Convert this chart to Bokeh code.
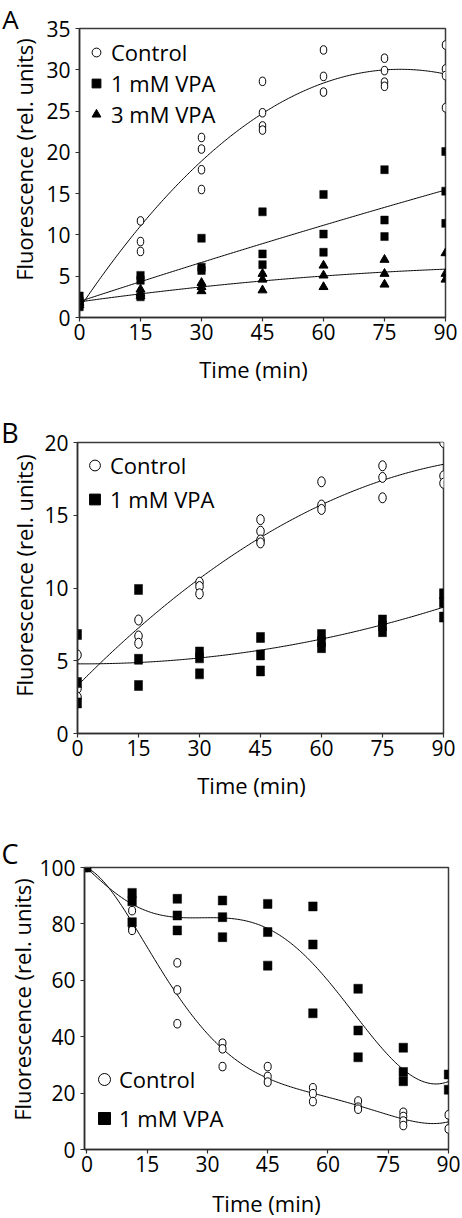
import numpy as np
from bokeh.plotting import figure
from bokeh.models import Legend, LegendItem, Label, FixedTicker, Range1d
from bokeh.layouts import column, row
from bokeh.embed import file_html
from bokeh.resources import INLINE

FONT = "Open Sans"

# ---------------- Panel A data ----------------
a_ctrl_t = [0, 0, 0, 15, 15, 15, 30, 30, 30, 30, 45, 45, 45, 45, 60, 60, 60, 75, 75, 75, 75, 90, 90, 90, 90]
a_ctrl_y = [2.0, 1.7, 2.3, 11.7, 9.2, 8.0, 21.8, 20.4, 17.9, 15.5, 28.6, 24.8, 23.2, 22.7,
            32.4, 29.2, 27.3, 31.4, 29.9, 28.5, 28.0, 33.0, 30.1, 29.3, 25.4]
a_vpa1_t = [0, 0, 0, 15, 15, 15, 30, 30, 30, 45, 45, 45, 60, 60, 60, 75, 75, 75, 90, 90, 90]
a_vpa1_y = [2.6, 2.0, 1.3, 5.1, 4.5, 2.5, 9.6, 6.1, 5.7, 12.8, 7.7, 6.4, 14.9, 10.1, 7.9,
            17.9, 11.8, 9.8, 20.1, 15.3, 11.4]
a_vpa3_t = [0, 0, 0, 15, 15, 15, 30, 30, 30, 45, 45, 45, 60, 60, 60, 75, 75, 75, 90, 90, 90]
a_vpa3_y = [2.2, 1.8, 1.5, 3.4, 2.9, 2.6, 4.2, 3.7, 3.2, 5.3, 4.6, 3.3, 6.3, 5.1, 3.7,
            7.0, 5.3, 4.0, 7.8, 5.3, 4.6]

# ---------------- Panel B data ----------------
b_ctrl_t = [0, 0, 0, 15, 15, 15, 30, 30, 30, 45, 45, 45, 45, 60, 60, 60, 75, 75, 75, 90, 90, 90]
b_ctrl_y = [5.4, 3.1, 2.5, 7.8, 6.7, 6.2, 10.4, 10.1, 9.6, 14.7, 13.9, 13.3, 13.1,
            17.3, 15.7, 15.4, 18.4, 17.6, 16.2, 20.0, 17.7, 17.2]
b_vpa1_t = [0, 0, 0, 15, 15, 15, 30, 30, 30, 45, 45, 45, 60, 60, 60, 75, 75, 75, 90, 90, 90]
b_vpa1_y = [6.8, 3.5, 2.1, 9.9, 5.1, 3.3, 5.6, 5.2, 4.1, 6.6, 5.4, 4.3, 6.8, 6.3, 5.9,
            7.8, 7.4, 7.0, 9.6, 9.0, 8.0]

# ---------------- Panel C data ----------------
c_ctrl_t = [0, 11.25, 11.25, 11.25, 22.5, 22.5, 22.5, 33.75, 33.75, 33.75, 45, 45, 45,
            56.25, 56.25, 56.25, 67.5, 67.5, 67.5, 78.75, 78.75, 78.75, 78.75, 90, 90]
c_ctrl_y = [100, 84.7, 78.3, 77.7, 66.2, 56.6, 44.6, 37.7, 35.7, 29.4, 29.4, 25.9, 23.9,
            21.9, 19.8, 17.0, 17.2, 15.0, 14.3, 13.2, 11.7, 10.1, 8.5, 12.3, 7.3]
c_vpa1_t = [0, 11.25, 11.25, 11.25, 22.5, 22.5, 22.5, 33.75, 33.75, 33.75, 45, 45, 45,
            56.25, 56.25, 56.25, 67.5, 67.5, 67.5, 78.75, 78.75, 78.75, 90, 90]
c_vpa1_y = [100, 91.0, 88.0, 80.6, 88.9, 83.0, 77.7, 88.3, 82.4, 75.3, 87.1, 77.1, 65.2,
            86.2, 72.7, 48.3, 57.0, 42.2, 32.7, 36.1, 27.5, 24.2, 26.6, 21.2]

x_ticks = [0, 15, 30, 45, 60, 75, 90]
a_y_ticks = [0, 5, 10, 15, 20, 25, 30, 35]
b_y_ticks = [0, 5, 10, 15, 20]
c_y_ticks = [0, 20, 40, 60, 80, 100]

X_LABEL = "Time (min)"
Y_LABEL = "Fluorescence (rel. units)"

AXIS_COL = "#2e2e2e"


def fit_curve(t, y, deg):
    coef = np.polyfit(np.asarray(t, float), np.asarray(y, float), deg)
    tt = np.linspace(0, 90, 241)
    return tt, np.polyval(coef, tt)


def make_fig(width, height, x_start, y_end, y_ticks, b_left, b_top, b_right, b_bottom):
    p = figure(width=width, height=height, output_backend="svg", toolbar_location=None,
               x_range=Range1d(x_start, 90), y_range=Range1d(0, y_end),
               min_border_left=b_left, min_border_top=b_top,
               min_border_right=b_right, min_border_bottom=b_bottom)
    p.xgrid.visible = False
    p.ygrid.visible = False
    p.outline_line_color = "#3a3a3a"
    p.outline_line_width = 1.5
    p.background_fill_color = "white"
    p.border_fill_color = "white"
    p.xaxis.ticker = FixedTicker(ticks=x_ticks)
    p.yaxis.ticker = FixedTicker(ticks=y_ticks)
    for ax in (p.xaxis[0], p.yaxis[0]):
        ax.axis_line_color = AXIS_COL
        ax.axis_line_width = 1.5
        ax.major_tick_line_color = AXIS_COL
        ax.major_tick_line_width = 1.2
        ax.major_tick_out = 4
        ax.major_tick_in = 0
        ax.minor_tick_line_color = None
        ax.major_label_text_font = FONT
        ax.major_label_text_font_size = "21px"
        ax.major_label_text_color = "black"
    p.xaxis.major_label_standoff = 2
    p.yaxis.major_label_standoff = 5
    return p


def strip(width, height):
    s = figure(width=width, height=height, output_backend="svg", toolbar_location=None,
               x_range=Range1d(0, 1), y_range=Range1d(0, 1),
               x_axis_location=None, y_axis_location=None, min_border=0)
    s.outline_line_color = None
    s.background_fill_color = "white"
    s.border_fill_color = "white"
    s.grid.visible = False
    return s


def add_text(p, text, x, y, size, angle=0.0):
    p.add_layout(Label(x=x, y=y, x_units="screen", y_units="screen", text=text,
                       angle=angle, text_font=FONT, text_font_size=size,
                       text_align="center", text_baseline="middle", text_color="black"))


def add_legend(p, items, gw, spacing, standoff, vx, vy):
    lg = Legend(items=items, location=(vx, vy), glyph_width=gw, glyph_height=30,
                label_height=30, spacing=spacing, label_standoff=standoff,
                padding=0, margin=0, background_fill_alpha=0, border_line_color=None,
                label_text_font=FONT, label_text_font_size="22px",
                label_text_color="black", inactive_fill_alpha=0)
    p.add_layout(lg)


def curve(p, t, y, deg):
    tt, yy = fit_curve(t, y, deg)
    p.line(tt, yy, line_color="black", line_width=1)


def circles(p, t, y, w, h):
    p.ellipse(t, y, width=w, height=h, width_units="screen", height_units="screen",
              fill_color="white", line_color="black", line_width=1)


def squares(p, t, y, w, h):
    p.rect(t, y, width=w, height=h, width_units="screen", height_units="screen",
           fill_color="black", line_color="black", line_width=0.5)


def proxy(p, t, y, marker):
    fill = "white" if marker == "circle" else "black"
    return p.scatter(t, y, marker=marker, size=8, fill_color=fill, line_color="black",
                     line_width=1, visible=False)


# ---------------- Panel A ----------------
pA = make_fig(422, 353, 0, 35, a_y_ticks, 39, 28, 17, 36)
curve(pA, a_ctrl_t, a_ctrl_y, 2)
curve(pA, a_vpa1_t, a_vpa1_y, 2)
curve(pA, a_vpa3_t, a_vpa3_y, 2)
circles(pA, a_ctrl_t, a_ctrl_y, 6.5, 8.5)
pA.scatter(a_vpa3_t, a_vpa3_y, marker="triangle", size=9, fill_color="black", line_color="black")
squares(pA, a_vpa1_t, a_vpa1_y, 7.5, 8)
rA = [proxy(pA, a_ctrl_t, a_ctrl_y, "circle"), proxy(pA, a_vpa1_t, a_vpa1_y, "square"),
      proxy(pA, a_vpa3_t, a_vpa3_y, "triangle")]
add_legend(pA, [LegendItem(label="Control", renderers=[rA[0]]),
                LegendItem(label="1 mM VPA", renderers=[rA[1]]),
                LegendItem(label="3 mM VPA", renderers=[rA[2]])],
           22, 1, 4, 6, 188)
sideA = strip(40, 396)
add_text(sideA, "A", 10, 378, "26px")
add_text(sideA, Y_LABEL, 23.5, 237, "22px", angle=np.pi / 2)
footA = strip(422, 43)
add_text(footA, X_LABEL, 174, 28, "22px")
blockA = row(sideA, column(pA, footA, spacing=0), spacing=0)

# ---------------- Panel B ----------------
pB = make_fig(422, 373, 0, 20, b_y_ticks, 37, 46, 19, 36)
curve(pB, b_ctrl_t, b_ctrl_y, 2)
curve(pB, b_vpa1_t, b_vpa1_y, 2)
circles(pB, b_ctrl_t, b_ctrl_y, 7.5, 10)
squares(pB, b_vpa1_t, b_vpa1_y, 8, 10)
rB = [proxy(pB, b_ctrl_t, b_ctrl_y, "circle"), proxy(pB, b_vpa1_t, b_vpa1_y, "square")]
add_legend(pB, [LegendItem(label="Control", renderers=[rB[0]]),
                LegendItem(label="1 mM VPA", renderers=[rB[1]])],
           27, 4, 2, 4, 219)
sideB = strip(40, 404)
add_text(sideB, "B", 9.5, 368, "27px")
add_text(sideB, Y_LABEL, 23.5, 225, "22px", angle=np.pi / 2)
footB = strip(422, 31)
add_text(footB, X_LABEL, 174, 16, "22px")
blockB = row(sideB, column(pB, footB, spacing=0), spacing=0)

# ---------------- Panel C ----------------
pC = make_fig(426, 385, -0.6, 100, c_y_ticks, 47, 67, 14, 36)
curve(pC, c_ctrl_t, c_ctrl_y, 6)
curve(pC, c_vpa1_t, c_vpa1_y, 6)
circles(pC, c_ctrl_t, c_ctrl_y, 7, 8.5)
squares(pC, c_vpa1_t, c_vpa1_y, 8.5, 9)
rC = [proxy(pC, c_ctrl_t, c_ctrl_y, "circle"), proxy(pC, c_vpa1_t, c_vpa1_y, "square")]
add_legend(pC, [LegendItem(label="Control", renderers=[rC[0]]),
                LegendItem(label="1 mM VPA", renderers=[rC[1]])],
           30, 9, -4, 5, 16)
sideC = strip(36, 418)
add_text(sideC, "C", 9.5, 365, "27px")
add_text(sideC, Y_LABEL, 21, 219, "22px", angle=np.pi / 2)
footC = strip(426, 33)
add_text(footC, X_LABEL, 182, 16, "22px")
blockC = row(sideC, column(pC, footC, spacing=0), spacing=0)

layout = column(blockA, blockB, blockC, spacing=0)
open("out.html", "w").write(file_html(layout, INLINE))
